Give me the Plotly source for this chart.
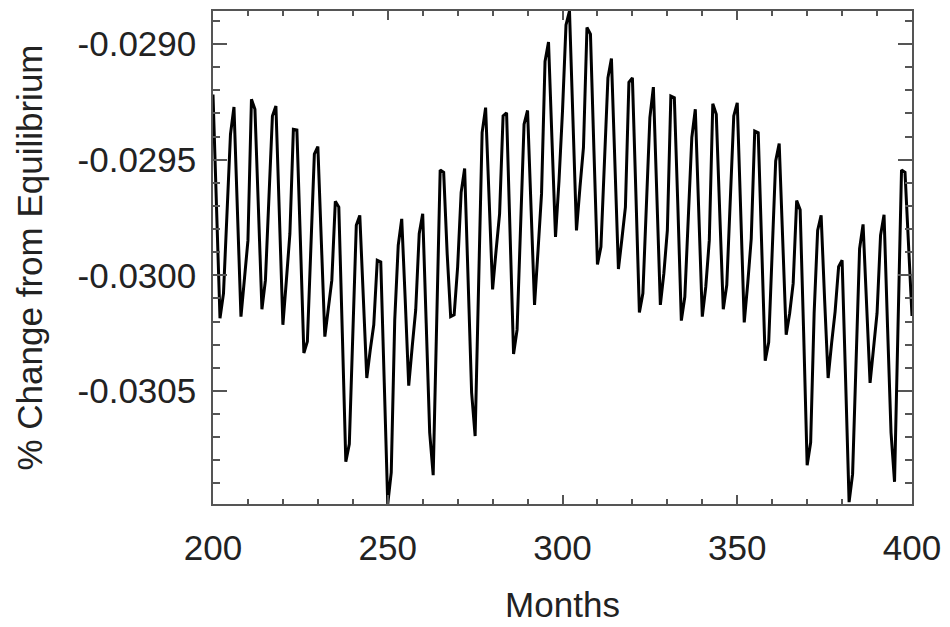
import plotly.graph_objects as go

months = list(range(200, 401))

change_pct = [
    -0.029218, -0.029705, -0.030186, -0.030078, -0.029734, -0.029390, -0.029272, -0.029725, -0.030179, -0.030014,
    -0.029849, -0.029239, -0.029282, -0.029713, -0.030147, -0.030021, -0.029677, -0.029311, -0.029268, -0.029741,
    -0.030214, -0.030021, -0.029820, -0.029369, -0.029372, -0.029849, -0.030336, -0.030286, -0.029877, -0.029476,
    -0.029443, -0.029849, -0.030265, -0.030143, -0.030021, -0.029680, -0.029705, -0.030250, -0.030806, -0.030730,
    -0.030236, -0.029784, -0.029741, -0.030093, -0.030444, -0.030322, -0.030214, -0.029935, -0.029942, -0.030465,
    -0.030989, -0.030852, -0.030193, -0.029870, -0.029756, -0.030107, -0.030477, -0.030308, -0.030150, -0.029820,
    -0.029734, -0.030207, -0.030680, -0.030864, -0.030193, -0.029545, -0.029555, -0.029906, -0.030179, -0.030171,
    -0.029963, -0.029641, -0.029538, -0.030078, -0.030508, -0.030695, -0.030006, -0.029383, -0.029275, -0.029677,
    -0.030061, -0.029892, -0.029734, -0.029311, -0.029297, -0.029820, -0.030340, -0.030236, -0.029791, -0.029347,
    -0.029287, -0.029705, -0.030128, -0.029892, -0.029648, -0.029075, -0.028991, -0.029419, -0.029834, -0.029591,
    -0.029290, -0.028917, -0.028857, -0.029333, -0.029806, -0.029619, -0.029447, -0.028928, -0.028957, -0.029462,
    -0.029953, -0.029877, -0.029490, -0.029146, -0.029063, -0.029505, -0.029973, -0.029842, -0.029705, -0.029165,
    -0.029146, -0.029648, -0.030161, -0.030078, -0.029698, -0.029318, -0.029186, -0.029662, -0.030128, -0.029992,
    -0.029806, -0.029225, -0.029232, -0.029698, -0.030196, -0.030093, -0.029720, -0.029404, -0.029282, -0.029734,
    -0.030179, -0.030049, -0.029849, -0.029258, -0.029304, -0.029734, -0.030147, -0.030042, -0.029677, -0.029311,
    -0.029254, -0.029734, -0.030204, -0.030035, -0.029842, -0.029376, -0.029383, -0.029877, -0.030369, -0.030290,
    -0.029892, -0.029505, -0.029430, -0.029849, -0.030257, -0.030164, -0.030035, -0.029677, -0.029717, -0.030250,
    -0.030821, -0.030723, -0.030164, -0.029806, -0.029741, -0.030107, -0.030444, -0.030293, -0.030157, -0.029963,
    -0.029935, -0.030451, -0.030981, -0.030860, -0.030365, -0.029885, -0.029780, -0.030107, -0.030465, -0.030315,
    -0.030164, -0.029827, -0.029738, -0.030222, -0.030680, -0.030893, -0.030222, -0.029545, -0.029555, -0.029863,
    -0.030176,
]

x_tick_vals = [200, 250, 300, 350, 400]
x_tick_text = ["200", "250", "300", "350", "400"]
y_tick_vals = [-0.0290, -0.0295, -0.0300, -0.0305]
y_tick_text = ["-0.0290", "-0.0295", "-0.0300", "-0.0305"]

FONT = "Liberation Sans, Arial, Helvetica, sans-serif"
AXC = "#555555"
FS = 35

fig = go.Figure()
fig.add_trace(go.Scatter(x=months, y=change_pct, mode="lines",
                         line=dict(color="black", width=3), hoverinfo="skip"))

fig.update_layout(
    width=950, height=627,
    margin=dict(l=213, r=33, t=9, b=121),
    paper_bgcolor="white", plot_bgcolor="white",
    showlegend=False,
    font=dict(family=FONT, color="#222222", size=FS),
    xaxis=dict(
        range=[200, 400],
        tickmode="array", tickvals=x_tick_vals, ticktext=x_tick_text,
        ticks="inside", ticklen=9, tickwidth=1.5, tickcolor=AXC,
        showline=True, linecolor=AXC, linewidth=1.5, mirror="ticks",
        showgrid=False, zeroline=False,
        minor=dict(ticks="inside", tickmode="linear", tick0=200, dtick=10,
                   ticklen=5, tickwidth=1.5, tickcolor=AXC, showgrid=False),
        tickfont=dict(size=FS, family=FONT),
        ticklabelstandoff=12,
        ticklabeloverflow="allow",
        title=dict(text="Months", font=dict(size=FS, family=FONT), standoff=27),
    ),
    yaxis=dict(
        range=[min(change_pct), max(change_pct)],
        tickmode="array", tickvals=y_tick_vals, ticktext=y_tick_text,
        ticks="inside", ticklen=14, tickwidth=1.5, tickcolor=AXC,
        showline=True, linecolor=AXC, linewidth=1.5, mirror="ticks",
        showgrid=False, zeroline=False,
        minor=dict(ticks="inside", tickmode="linear", tick0=-0.0290, dtick=0.0001,
                   ticklen=7, tickwidth=1.5, tickcolor=AXC, showgrid=False),
        tickfont=dict(size=FS, family=FONT),
        ticklabelstandoff=8,
        title=dict(text="% Change from Equilibrium", font=dict(size=FS, family=FONT), standoff=24),
    ),
)

fig.write_html("out.html")
